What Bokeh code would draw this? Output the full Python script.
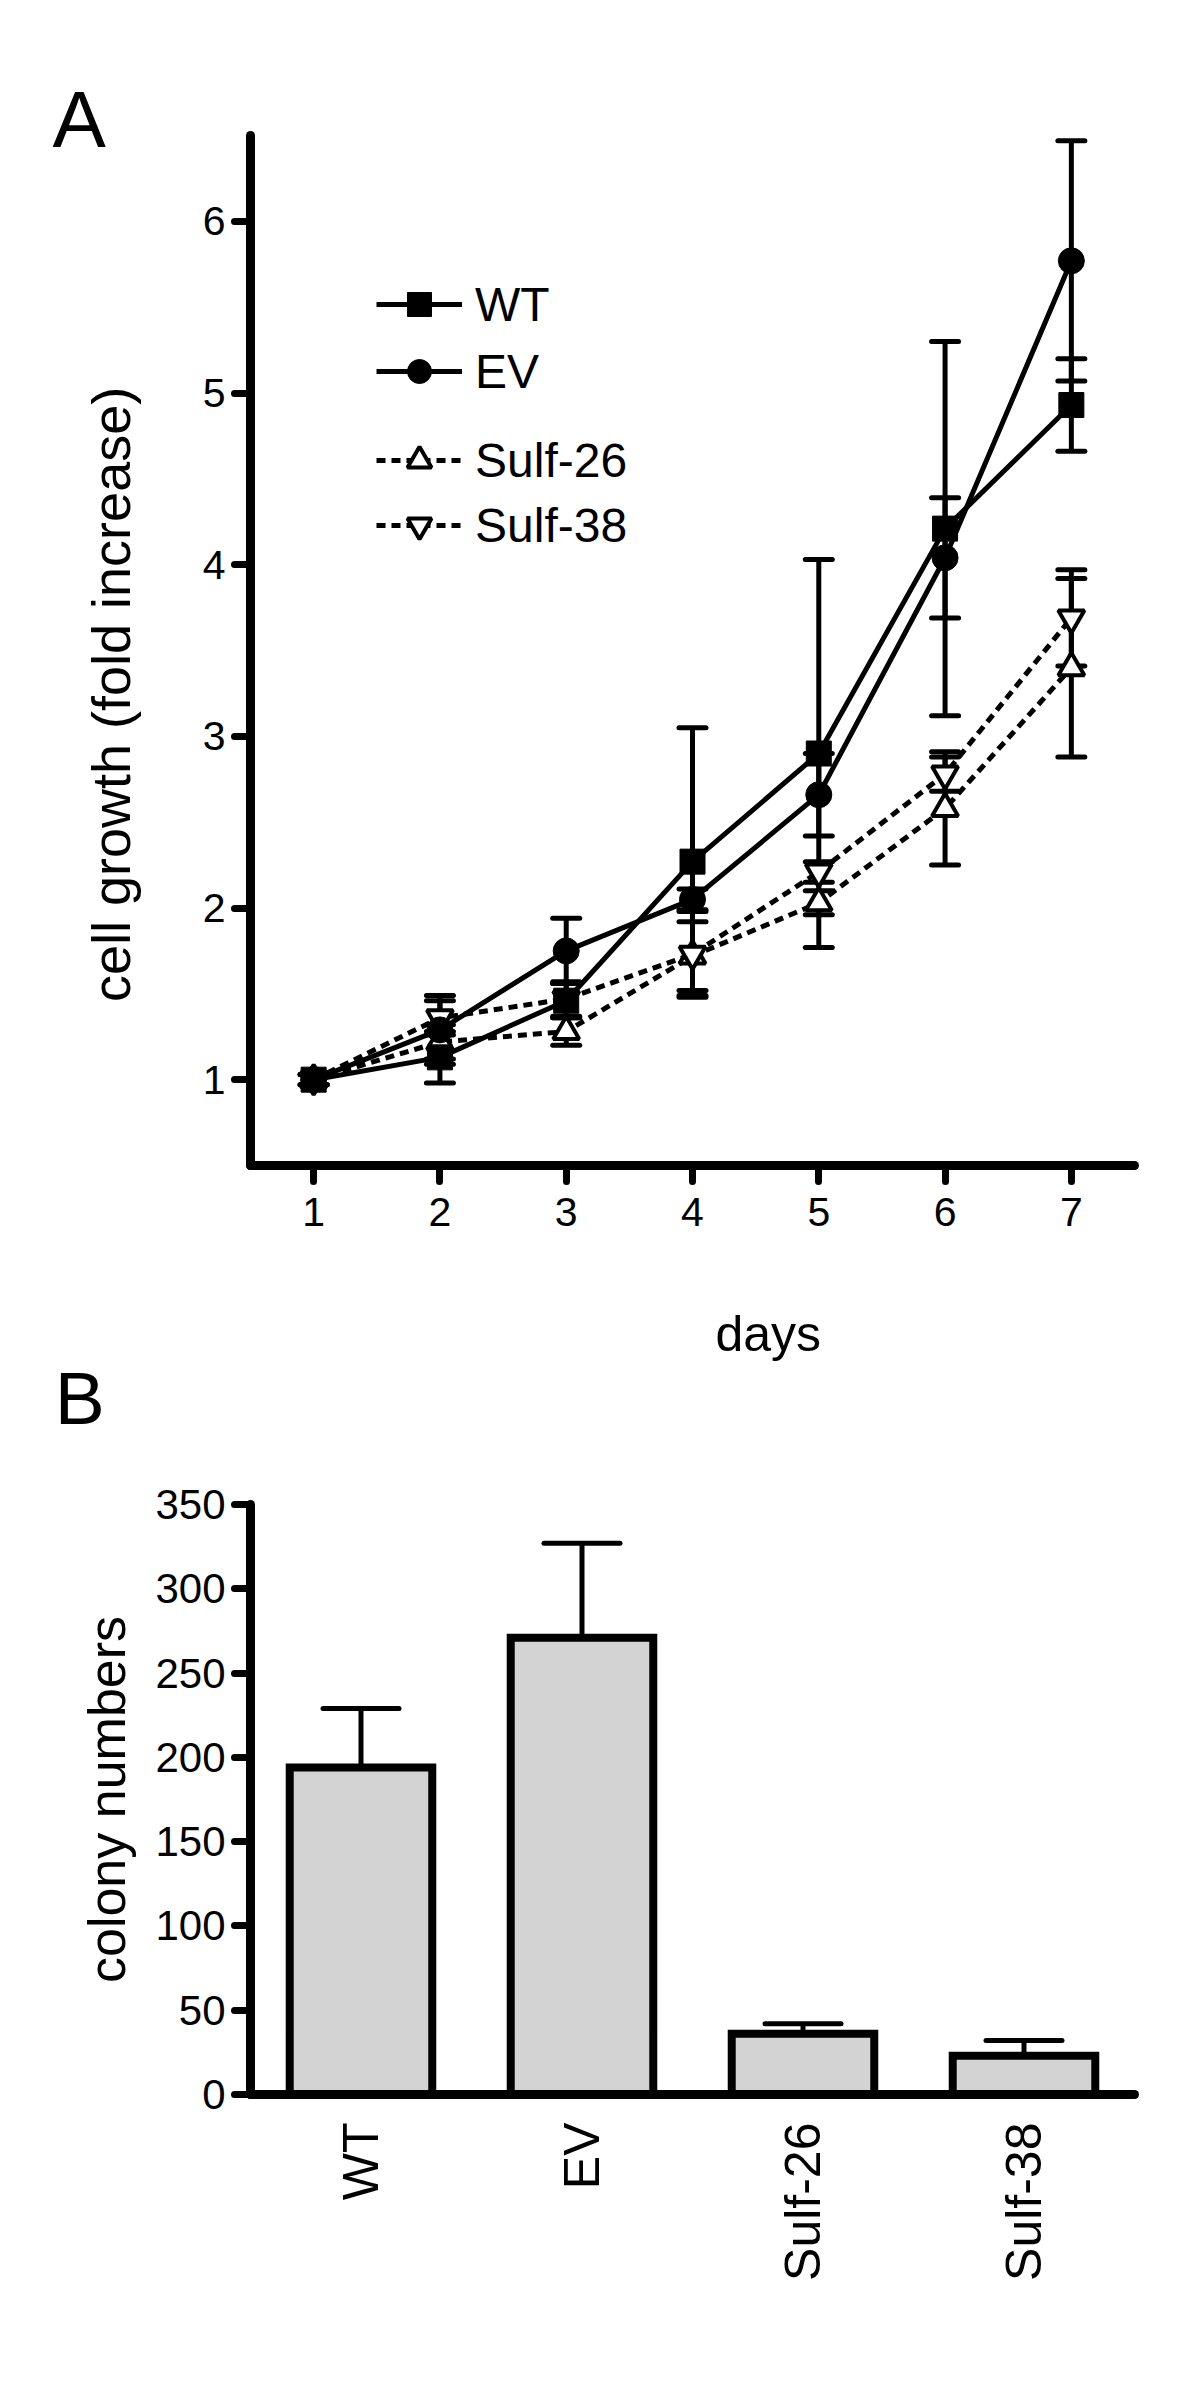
import math
from bokeh.plotting import figure
from bokeh.models import (Range1d, FactorRange, FixedTicker, Whisker, TeeHead,
                          ColumnDataSource, Legend, LegendItem, Label)
from bokeh.layouts import column
from bokeh.embed import file_html
from bokeh.resources import INLINE

FONT = "Liberation Sans"

# ---------------- Panel A data ----------------
days = [1, 2, 3, 4, 5, 6, 7]
day_ticks = [1, 2, 3, 4, 5, 6, 7]
growth_ticks = [1, 2, 3, 4, 5, 6]

wt_mean = [1.00, 1.13, 1.46, 2.27, 2.90, 4.21, 4.93]
wt_sd = [0.03, 0.15, 0.10, 0.78, 1.13, 1.09, 0.27]
ev_mean = [1.00, 1.29, 1.75, 2.05, 2.66, 4.04, 5.77]
ev_sd = [0.03, 0.20, 0.19, 0.06, 0.24, 0.35, 0.70]
s26_mean = [1.00, 1.22, 1.28, 1.72, 2.03, 2.58, 3.40]
s26_sd = [0.03, 0.10, 0.08, 0.20, 0.07, 0.33, 0.52]
s38_mean = [1.00, 1.36, 1.47, 1.73, 2.21, 2.78, 3.69]
s38_sd = [0.03, 0.10, 0.10, 0.25, 0.06, 0.10, 0.28]

# ---------------- Panel B data ----------------
groups = ["WT", "EV", "Sulf-26", "Sulf-38"]
colonies = [194, 271, 36, 23]
colonies_sd = [35, 56, 6, 9]
colony_ticks = [0, 50, 100, 150, 200, 250, 300, 350]


def style_axis(ax, tick_out=16, label_size="41px"):
    ax.axis_line_width = 9
    ax.axis_line_cap = "round"
    ax.axis_line_color = "black"
    ax.major_tick_line_width = 7
    ax.major_tick_line_cap = "round"
    ax.major_tick_line_color = "black"
    ax.major_tick_out = tick_out
    ax.major_tick_in = 0
    ax.minor_tick_line_color = None
    ax.major_label_text_font = FONT
    ax.major_label_text_font_size = label_size
    ax.major_label_text_color = "black"
    ax.axis_label_text_font = FONT
    ax.axis_label_text_font_size = "52px"
    ax.axis_label_text_font_style = "normal"
    ax.axis_label_text_color = "black"


# ================= Panel A =================
pA = figure(width=1192, height=1450, output_backend="svg", toolbar_location=None,
            x_range=Range1d(0.5, 7.5), y_range=Range1d(0.5, 6.5),
            min_border_left=250, min_border_right=58,
            min_border_top=135, min_border_bottom=285)
pA.outline_line_color = None
pA.xgrid.grid_line_color = None
pA.ygrid.grid_line_color = None
pA.background_fill_color = "white"
pA.border_fill_color = "white"

pA.xaxis.ticker = FixedTicker(ticks=day_ticks)
pA.yaxis.ticker = FixedTicker(ticks=growth_ticks)
style_axis(pA.xaxis[0])
style_axis(pA.yaxis[0])
pA.xaxis.major_label_standoff = 16
pA.yaxis.major_label_standoff = 9


def add_series(p, mean, sd, marker, dashed, fill, msize):
    src = ColumnDataSource(dict(
        x=days, y=mean,
        lo=[m - s for m, s in zip(mean, sd)],
        hi=[m + s for m, s in zip(mean, sd)]))
    w = Whisker(source=src, base="x", upper="hi", lower="lo",
                line_width=5, line_color="black",
                upper_head=TeeHead(size=27, line_width=5, line_color="black", line_cap="round"),
                lower_head=TeeHead(size=27, line_width=5, line_color="black", line_cap="round"),
                level="underlay")
    p.add_layout(w)
    if dashed:
        lr = p.line("x", "y", source=src, line_color="black", line_width=5, line_dash="9 6")
    else:
        lr = p.line("x", "y", source=src, line_color="black", line_width=5)
    sr = p.scatter("x", "y", source=src, marker=marker, size=msize,
                   fill_color=fill, line_color="black", line_width=4 if fill == "white" else 1)
    return lr, sr


l26, s26 = add_series(pA, s26_mean, s26_sd, "triangle", True, "white", 26)
l38, s38 = add_series(pA, s38_mean, s38_sd, "inverted_triangle", True, "white", 26)
lwt, swt = add_series(pA, wt_mean, wt_sd, "square", False, "black", 25)
lev, sev = add_series(pA, ev_mean, ev_sd, "circle", False, "black", 26)

leg_common = dict(orientation="vertical", glyph_width=86, glyph_height=60,
                  label_height=60, label_standoff=13, padding=0, margin=0,
                  label_text_font=FONT, label_text_font_size="48px",
                  label_text_color="black",
                  border_line_alpha=0, background_fill_alpha=0)
leg1 = Legend(items=[LegendItem(label="WT", renderers=[lwt, swt]),
                     LegendItem(label="EV", renderers=[lev, sev])],
              location=(126, 764), spacing=7, **leg_common)
leg2 = Legend(items=[LegendItem(label="Sulf-26", renderers=[l26, s26]),
                     LegendItem(label="Sulf-38", renderers=[l38, s38])],
              location=(126, 610), spacing=5, **leg_common)
pA.add_layout(leg1, "center")
pA.add_layout(leg2, "center")

# panel letters and axis titles (placed in side panels so they are not clipped)
pA.add_layout(Label(x=-1.067, y=6.593, text="A",
                    text_font=FONT, text_font_size="80px", text_color="black",
                    text_baseline="alphabetic", text_align="left"), "above")
pA.add_layout(Label(x=4.60, y=-0.484, text="days",
                    text_font=FONT, text_font_size="50px", text_color="black",
                    text_baseline="alphabetic", text_align="center"), "below")
pA.add_layout(Label(x=-0.603, y=3.244, text="cell growth (fold increase)",
                    angle=math.pi / 2, angle_units="rad",
                    text_font=FONT, text_font_size="54px", text_color="black",
                    text_baseline="alphabetic", text_align="center"), "left")
pA.add_layout(Label(x=-1.051, y=-0.857, text="B",
                    text_font=FONT, text_font_size="75px", text_color="black",
                    text_baseline="alphabetic", text_align="left"), "below")

# ================= Panel B =================
pB = figure(width=1192, height=925, output_backend="svg", toolbar_location=None,
            x_range=FactorRange(factors=groups, range_padding=0),
            y_range=Range1d(0, 350),
            min_border_left=250, min_border_right=58,
            min_border_top=54, min_border_bottom=281)
pB.outline_line_color = None
pB.xgrid.grid_line_color = None
pB.ygrid.grid_line_color = None
pB.background_fill_color = "white"
pB.border_fill_color = "white"

srcB = ColumnDataSource(dict(
    g=groups, v=colonies,
    hi=[v + s for v, s in zip(colonies, colonies_sd)]))
pB.vbar(x="g", top="v", source=srcB, width=0.645, fill_color="#d3d3d3",
        line_color="black", line_width=8, line_join="miter")
pB.add_layout(Whisker(source=srcB, base="g", upper="hi", lower="v",
                      line_width=5, line_color="black",
                      upper_head=TeeHead(size=76, line_width=5, line_color="black", line_cap="round"),
                      lower_head=None, level="overlay"))

pB.yaxis.ticker = FixedTicker(ticks=colony_ticks)
style_axis(pB.xaxis[0], tick_out=0, label_size="50px")
style_axis(pB.yaxis[0], label_size="42px")
pB.xaxis.major_tick_line_color = None
pB.xaxis.major_label_orientation = math.pi / 2
pB.xaxis.major_label_standoff = 28
pB.yaxis.major_label_standoff = 9
pB.yaxis.axis_label = "colony numbers"
pB.yaxis.axis_label_standoff = 16

layout = column(pA, pB, spacing=0)
open("out.html", "w").write(file_html(layout, INLINE))
